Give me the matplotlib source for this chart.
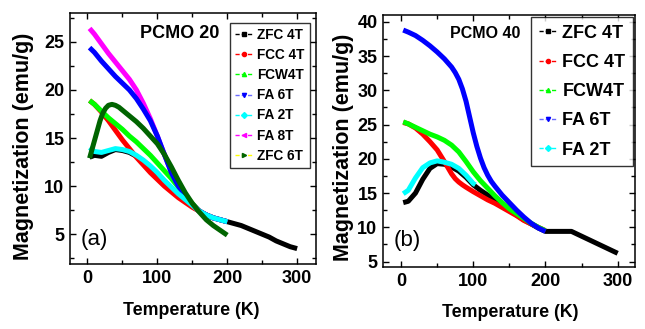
import matplotlib
matplotlib.use("Agg")
import matplotlib.pyplot as plt
from matplotlib.lines import Line2D
from matplotlib.ticker import MultipleLocator

plt.rcParams['font.family'] = ['Liberation Sans', 'DejaVu Sans']

# ---------------- Panel (a): PCMO 20 ----------------
T_a = [3, 10, 20, 30, 40, 50, 60, 70, 80, 90, 100, 110, 120, 130, 140, 150, 160, 170, 180, 190, 200]
T_a_zfc4 = T_a + [210, 220, 230, 240, 250, 260, 270, 280, 290, 300]
a_zfc4 = [13.0, 13.2, 13.1, 13.5, 13.8, 13.7, 13.5, 13.1, 12.6, 12.0, 11.3, 10.5, 9.8, 9.1, 8.5, 7.9, 7.4, 7.0, 6.7, 6.5, 6.3,
          6.1, 5.9, 5.6, 5.3, 5.0, 4.7, 4.3, 4.0, 3.7, 3.5]
a_fcc4 = [18.9, 18.5, 17.7, 16.8, 15.8, 14.8, 13.9, 13.0, 12.2, 11.4, 10.7, 10.0, 9.4, 8.8, 8.3, 7.8, 7.4, 7.0, 6.7, 6.5, 6.3]
a_fcw4 = [18.9, 18.5, 17.8, 17.1, 16.5, 15.9, 15.2, 14.6, 13.9, 13.2, 12.4, 11.6, 10.8, 9.9, 9.0, 8.2, 7.4, 7.0, 6.7, 6.5, 6.3]
a_fa6 = [24.4, 23.9, 23.0, 22.2, 21.4, 20.7, 20.0, 19.1, 18.0, 16.8, 15.2, 13.3, 11.4, 10.0, 8.9, 8.1, 7.4, 7.0, 6.7, 6.5, 6.3]
a_fa2 = [14.0, 13.6, 13.5, 13.7, 13.9, 13.8, 13.6, 13.2, 12.7, 12.1, 11.4, 10.6, 9.9, 9.2, 8.6, 8.0, 7.4, 7.0, 6.7, 6.5, 6.3]
T_a_fa8 = [3, 10, 20, 30, 40, 50, 60, 70, 80, 90, 100, 105, 110, 115, 120, 130, 140, 150, 160, 170, 180, 190, 200]
a_fa8 = [26.4, 25.8, 24.8, 23.8, 22.9, 22.0, 21.1, 20.0, 18.6, 17.0, 15.2, 14.2, 13.3, 12.4, 11.5, 10.1, 9.0, 8.1, 7.4, 7.0,
         6.7, 6.5, 6.3]
T_a_zfc6 = [3, 8, 13, 18, 22, 26, 30, 35, 40, 45, 50, 60, 70, 80, 90, 100, 110, 120, 130, 140, 150, 160, 170, 180, 190, 200]
a_zfc6 = [12.9, 14.2, 15.5, 16.8, 17.6, 18.1, 18.4, 18.5, 18.4, 18.2, 17.9, 17.3, 16.7, 16.0, 15.2, 14.4, 13.3, 12.0, 10.6,
          9.3, 8.2, 7.3, 6.5, 5.9, 5.4, 4.9]

# ---------------- Panel (b): PCMO 40 ----------------
T_b = [3, 10, 20, 30, 40, 50, 60, 70, 80, 90, 100, 110, 120, 130, 140, 150, 160, 170, 180, 190, 200]
T_b_zfc4 = T_b + [210, 220, 236, 250, 260, 270, 280, 290, 300]
b_zfc4 = [13.6, 13.8, 15.0, 17.0, 18.6, 19.3, 19.2, 18.8, 18.2, 17.3, 16.2, 15.4, 14.7, 14.1, 13.4, 12.6, 11.8, 11.1, 10.5, 9.9, 9.4,
          9.4, 9.4, 9.4, 8.7, 8.2, 7.7, 7.2, 6.7, 6.2]
T_b_fcc4 = [3, 10, 20, 30, 40, 50, 60, 70, 75, 80, 85, 90, 100, 110, 120, 130, 140, 150, 160, 170, 180, 190, 200]
b_fcc4 = [25.3, 25.1, 24.5, 23.6, 22.5, 21.3, 19.6, 17.8, 17.1, 16.6, 16.2, 15.85, 15.2, 14.6, 14.0, 13.5, 12.9, 12.3, 11.7,
          11.0, 10.5, 10.0, 9.5]
b_fcw4 = [25.4, 25.1, 24.6, 24.1, 23.6, 23.2, 22.7, 22.0, 21.0, 19.6, 18.1, 16.8, 15.7, 14.6, 13.6, 12.7, 12.0, 11.3, 10.6, 10.0, 9.5]
T_b_fa6 = [3, 10, 20, 30, 40, 50, 60, 70, 75, 80, 85, 90, 95, 100, 105, 110, 115, 120, 125, 130, 140, 150, 160, 170, 180, 190, 200]
b_fa6 = [38.8, 38.5, 38.0, 37.3, 36.5, 35.6, 34.6, 33.4, 32.6, 31.6, 30.2, 28.4, 26.1, 23.8, 21.8, 20.1, 18.7, 17.6, 16.7, 16.0,
         14.7, 13.6, 12.5, 11.5, 10.6, 9.9, 9.4]
T_b_fa2 = [3, 10, 20, 30, 40, 50, 60, 70, 80, 90, 100, 103]
b_fa2 = [14.9, 15.4, 17.2, 18.7, 19.4, 19.7, 19.5, 19.2, 18.6, 17.6, 16.4, 16.2]

labels_a = ["ZFC 4T", "FCC 4T", "FCW4T", "FA 6T", "FA 2T", "FA 8T", "ZFC 6T"]
labels_b = ["ZFC 4T", "FCC 4T", "FCW4T", "FA 6T", "FA 2T"]

C_BLACK, C_RED, C_GREEN, C_BLUE, C_CYAN, C_MAG, C_DG = 'black', '#ff0000', '#00ff00', '#0000ff', '#00ffff', '#ff00ff', '#006400'

fig = plt.figure(figsize=(6.45, 3.29), dpi=100)
ax1 = fig.add_axes([70/645, 1-264/329, 246/645, 251/329])
ax2 = fig.add_axes([383/645, 1-267/329, 252/645, 252/329])

LW = 3.6
kw = dict(lw=LW, solid_joinstyle='round', solid_capstyle='butt')
ax1.plot(T_a_zfc4, a_zfc4, color=C_BLACK, **kw)
ax1.plot(T_a, a_fcc4, color=C_RED, **kw)
ax1.plot(T_a, a_fcw4, color=C_GREEN, **kw)
ax1.plot(T_a_fa8, a_fa8, color=C_MAG, **kw)
ax1.plot(T_a, a_fa6, color=C_BLUE, **kw)
ax1.plot(T_a, a_fa2, color=C_CYAN, **kw)
ax1.plot(T_a_zfc6, a_zfc6, color=C_DG, **kw)

ax2.plot(T_b_zfc4, b_zfc4, color=C_BLACK, **kw)
ax2.plot(T_b_fcc4, b_fcc4, color=C_RED, **kw)
ax2.plot(T_b, b_fcw4, color=C_GREEN, **kw)
ax2.plot(T_b_fa6, b_fa6, color=C_BLUE, **kw)
ax2.plot(T_b_fa2, b_fa2, color=C_CYAN, **kw)

def handle(lc, mc, m):
    return Line2D([], [], color=lc, lw=1.0, ls=(0, (3, 1.5)), marker=m, markersize=3,
                  markerfacecolor=mc, markeredgecolor=mc)

handles_a = [handle('black', 'black', 's'), handle(C_RED, C_RED, 'o'), handle(C_GREEN, C_GREEN, '^'),
             handle('#6a6aff', C_BLUE, 'v'), handle(C_CYAN, C_CYAN, 'D'), handle(C_MAG, C_MAG, '<'),
             handle('#ffff00', C_DG, '>')]
handles_b = handles_a[:5]

for ax, xl, ylim in [(ax1, (-25, 327), (1.9, 28.0)), (ax2, (-25, 324), (4.2, 41.0))]:
    ax.set_xlim(*xl)
    ax.set_ylim(*ylim)
    ax.xaxis.set_major_locator(MultipleLocator(100))
    ax.xaxis.set_minor_locator(MultipleLocator(50))
    ax.yaxis.set_major_locator(MultipleLocator(5))
    ax.yaxis.set_minor_locator(MultipleLocator(2.5))
    ax.tick_params(which='both', direction='in', top=True, right=True, width=1.0)
    ax.tick_params(which='major', length=4)
    ax.tick_params(which='minor', length=3)
    ax.tick_params(axis='both', pad=4)
    for s in ax.spines.values():
        s.set_linewidth(1.1)

ax1.set_yticks([5, 10, 15, 20, 25])
ax2.set_yticks([5, 10, 15, 20, 25, 30, 35, 40])
for ax in (ax1, ax2):
    for lab in ax.get_xticklabels() + ax.get_yticklabels():
        lab.set_fontweight('bold')
        lab.set_fontsize(13)

ax1.set_xlabel("Temperature (K)", fontsize=12.8, fontweight='bold', va='center')
ax1.xaxis.set_label_coords(0.494, -0.186)
ax1.set_ylabel("Magnetization (emu/g)", fontsize=15.5, fontweight='bold', va='center')
ax1.yaxis.set_label_coords(-0.187, 0.468)
ax2.set_xlabel("Temperature (K)", fontsize=12.8, fontweight='bold', va='center')
ax2.xaxis.set_label_coords(0.504, -0.179)
ax2.set_ylabel("Magnetization (emu/g)", fontsize=15.5, fontweight='bold', va='center')
ax2.yaxis.set_label_coords(-0.155, 0.476)

ax1.text(0.447, 0.92, "PCMO 20", transform=ax1.transAxes, ha='center', va='center', fontsize=13,
         fontweight='bold')
ax2.text(0.405, 0.927, "PCMO 40", transform=ax2.transAxes, ha='center', va='center', fontsize=11.5,
         fontweight='bold')
ax1.text(0.098, 0.096, "(a)", transform=ax1.transAxes, ha='center', va='center', fontsize=16)
ax2.text(0.097, 0.107, "(b)", transform=ax2.transAxes, ha='center', va='center', fontsize=16)

leg1 = ax1.legend(handles_a, labels_a, loc='upper right', bbox_to_anchor=(0.976, 0.962),
                  prop={'weight': 'bold', 'size': 9.8}, frameon=True, fancybox=False,
                  edgecolor='black', handlelength=1.3, handletextpad=0.3, labelspacing=0.45, borderpad=0.4,
                  borderaxespad=0, numpoints=1)
leg1.get_frame().set_linewidth(1.0)
leg2 = ax2.legend(handles_b, labels_b, loc='upper right', bbox_to_anchor=(0.992, 0.992),
                  prop={'weight': 'bold', 'size': 13}, frameon=True, fancybox=False,
                  edgecolor='black', handlelength=1.0, handletextpad=0.3, labelspacing=0.68, borderpad=0.42,
                  borderaxespad=0, numpoints=1)
leg2.get_frame().set_linewidth(1.0)

fig.savefig("out.png", dpi=100)
